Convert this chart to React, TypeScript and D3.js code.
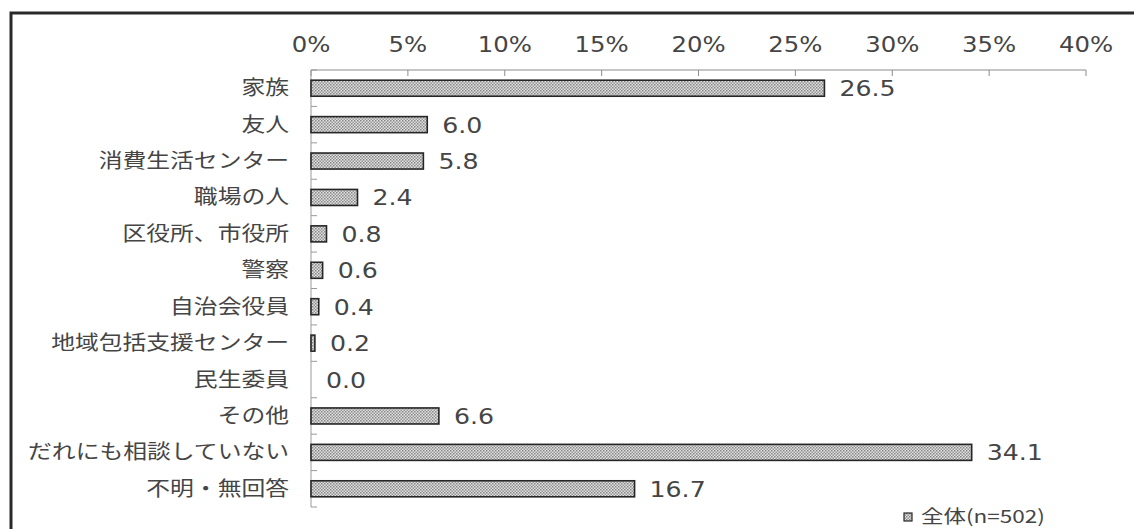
import * as d3 from "d3";
import { useEffect, useRef } from "react";

const categories = [
  "家族",
  "友人",
  "消費生活センター",
  "職場の人",
  "区役所、市役所",
  "警察",
  "自治会役員",
  "地域包括支援センター",
  "民生委員",
  "その他",
  "だれにも相談していない",
  "不明・無回答",
];
const values = [26.5, 6.0, 5.8, 2.4, 0.8, 0.6, 0.4, 0.2, 0.0, 6.6, 34.1, 16.7];
const xTicks = [0, 5, 10, 15, 20, 25, 30, 35, 40];
const legendLabel = "全体(n=502)";

const W = 1134;
const H = 529;
const JP_FONT = "'Noto Sans CJK JP', 'Noto Sans', sans-serif";
const NUM_FONT = "'DejaVu Sans', sans-serif";
const TEXT = "#454545";

const App = () => {
  const svgRef = useRef<SVGSVGElement>(null);

  useEffect(() => {
    const svgEl = svgRef.current;
    if (!svgEl) return;
    const svg = d3.select(svgEl);
    svg.selectAll("*").remove();

    // dotted bar fill, like the dithered print pattern
    const defs = svg.append("defs");
    const pat = defs
      .append("pattern")
      .attr("id", "dots")
      .attr("patternUnits", "userSpaceOnUse")
      .attr("width", 3)
      .attr("height", 3);
    pat.append("rect").attr("width", 3).attr("height", 3).attr("fill", "#e2e2e2");
    pat.append("rect").attr("width", 1.5).attr("height", 1.5).attr("fill", "#858585");
    pat
      .append("rect")
      .attr("x", 1.5)
      .attr("y", 1.5)
      .attr("width", 1.5)
      .attr("height", 1.5)
      .attr("fill", "#959595");

    // outer frame (only top and left edges fall inside the picture)
    svg
      .append("rect")
      .attr("x", 11)
      .attr("y", 13)
      .attr("width", W + 20)
      .attr("height", H + 20)
      .attr("fill", "none")
      .attr("stroke", "#2a2a2a")
      .attr("stroke-width", 3);

    const x = d3.scaleLinear().domain([0, 40]).range([311, 1086]);
    const y = d3
      .scaleBand()
      .domain(categories)
      .range([70, 507])
      .paddingInner(0.56)
      .paddingOuter(0.28);

    const g = svg.append("g");

    // top axis
    g.append("line")
      .attr("x1", x(0))
      .attr("x2", x(40))
      .attr("y1", 70)
      .attr("y2", 70)
      .attr("stroke", "#8c8c8c")
      .attr("stroke-width", 1);
    g.selectAll("line.tick-x")
      .data(xTicks)
      .enter()
      .append("line")
      .attr("x1", (t) => x(t))
      .attr("x2", (t) => x(t))
      .attr("y1", 70)
      .attr("y2", 76)
      .attr("stroke", "#8c8c8c");
    g.selectAll("text.tick-x")
      .data(xTicks)
      .enter()
      .append("text")
      .attr("transform", (t) => `translate(${x(t)},52) scale(1.16,1)`)
      .attr("text-anchor", "middle")
      .attr("fill", TEXT)
      .style("font-family", NUM_FONT)
      .style("font-size", "21px")
      .text((t) => `${t}%`);

    // left axis with ticks on band boundaries
    const step = y.step();
    const bounds = d3.range(categories.length + 1).map((i) => 70 + i * step);
    g.append("line")
      .attr("x1", x(0))
      .attr("x2", x(0))
      .attr("y1", 70)
      .attr("y2", 507)
      .attr("stroke", "#9a9a9a");
    g.selectAll("line.tick-y")
      .data(bounds)
      .enter()
      .append("line")
      .attr("x1", x(0))
      .attr("x2", x(0) + 6)
      .attr("y1", (b) => b)
      .attr("y2", (b) => b)
      .attr("stroke", "#9a9a9a");

    const mid = (c: string) => (y(c) ?? 0) + y.bandwidth() / 2;

    // category labels (glyphs in the source are drawn wide)
    g.selectAll("text.cat")
      .data(categories)
      .enter()
      .append("text")
      .attr("transform", (c) => `translate(289,${mid(c) + 7}) scale(1.19,1)`)
      .attr("text-anchor", "end")
      .attr("fill", TEXT)
      .style("font-family", JP_FONT)
      .style("font-size", "20px")
      .text((c) => c);

    // bars and value labels
    categories.forEach((c, i) => {
      const v = values[i];
      if (v > 0) {
        g.append("rect")
          .attr("x", x(0))
          .attr("y", y(c) ?? 0)
          .attr("width", Math.max(x(v) - x(0), 2))
          .attr("height", y.bandwidth())
          .attr("fill", "url(#dots)")
          .attr("stroke", "#262626")
          .attr("stroke-width", 1.6);
      }
      g.append("text")
        .attr("transform", `translate(${x(v) + 15},${mid(c) + 8}) scale(1.2,1)`)
        .attr("fill", TEXT)
        .style("font-family", NUM_FONT)
        .style("font-size", "21px")
        .text(v.toFixed(1));
    });

    // legend
    svg
      .append("rect")
      .attr("x", 904)
      .attr("y", 513)
      .attr("width", 8)
      .attr("height", 8)
      .attr("fill", "url(#dots)")
      .attr("stroke", "#262626")
      .attr("stroke-width", 1.2);
    svg
      .append("text")
      .attr("transform", "translate(921,523) scale(1.25,1)")
      .attr("fill", TEXT)
      .style("font-family", JP_FONT)
      .style("font-size", "18px")
      .text(legendLabel);
  }, []);

  return (
    <div
      style={{
        position: "absolute",
        left: 0,
        top: 0,
        width: W,
        height: H,
        background: "#fff",
      }}
    >
      <svg ref={svgRef} width={W} height={H} />
    </div>
  );
};

export default App;
